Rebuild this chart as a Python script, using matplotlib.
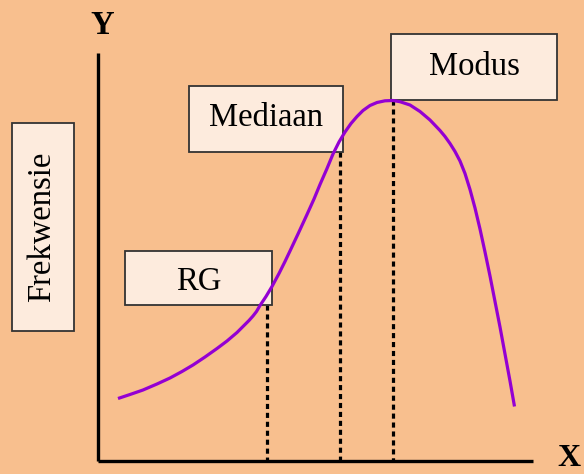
import matplotlib.pyplot as plt
from matplotlib.patches import Rectangle

# Diagram in pixel-like units (origin top-left)
curve_x = [118, 130, 143, 157, 170, 182, 193, 205, 217, 227, 237, 245, 249, 253, 256.5, 260, 266, 272,
           279, 285, 290, 298, 307, 314, 320, 327, 333, 339, 345, 351, 357, 363, 370, 377,
           385, 393, 400, 410, 420, 430, 440, 445, 450, 455, 460, 465, 470, 475, 480, 485, 490,
           495, 500, 505, 510, 514.5]
curve_y = [398.5, 394.5, 390, 384, 378, 371.5, 365, 357, 348.5, 341, 332.5, 324.5, 320.5, 316, 311.5, 305.5, 296.5, 286.5,
           273.5, 261.5, 251, 234, 214.5, 199, 184.5, 168.5, 154, 142, 132, 123.5, 116.5, 110.5, 105.5, 102.5,
           100.8, 100.5, 101.7, 105, 111.5, 120, 130.5, 136.5, 143.5, 151.5, 161, 173.5, 189.5, 208, 229, 252, 276,
           301.5, 327, 354, 381, 406.5]

# dotted markers: RG, Mediaan, Modus
mark_x = [267, 340, 393]
mark_top = [305, 152, 100]

box_labels = ['RG', 'Mediaan', 'Modus']
box_x = [125, 189, 391]
box_y = [251, 86, 34]
box_w = [147, 154, 166]
box_h = [54, 66, 66]
label_dy = [4, -1, 0]

axis_x0, axis_y0 = 98, 461
axis_xmax, axis_ytop = 533, 53

bg = '#F8BF8E'
box_fill = '#FDEBDD'
purple = '#9400D3'

fig = plt.figure(figsize=(5.84, 4.74), dpi=100, facecolor=bg)
ax = fig.add_axes([0, 0, 1, 1])
ax.set_facecolor(bg)
ax.set_xlim(0, 584)
ax.set_ylim(474, 0)
ax.axis('off')

plt.rcParams['font.family'] = ['Liberation Serif', 'DejaVu Serif']

# axes lines
ax.plot([axis_x0, axis_x0], [axis_ytop, axis_y0], color='black', lw=2.4, solid_capstyle='butt')
ax.plot([axis_x0, axis_xmax], [axis_y0, axis_y0], color='black', lw=2.4, solid_capstyle='butt')
ax.text(102, 25, 'Y', fontsize=23.5, fontweight='bold', ha='center', va='center', family='Liberation Serif')
ax.text(581, 473, 'X', fontsize=23, fontweight='bold', ha='right', va='bottom', family='Liberation Serif')

# dotted lines
for mx, mt in zip(mark_x, mark_top):
    ax.plot([mx, mx], [mt, axis_y0], color='black', lw=2.3, linestyle=(0, (1.6, 1.2)))

# label boxes
for lab, bx, by, bw, bh, dy in zip(box_labels, box_x, box_y, box_w, box_h, label_dy):
    ax.add_patch(Rectangle((bx, by), bw, bh, facecolor=box_fill, edgecolor='#333333', lw=1.3, zorder=4))
    ax.text(bx + bw / 2, by + bh / 2 + dy, lab, fontsize=23.5, ha='center', va='center',
            family='Liberation Serif', zorder=6)

# curve (drawn over the boxes' corners)
ax.plot(curve_x, curve_y, color=purple, lw=2.3, solid_capstyle='butt', solid_joinstyle='round', zorder=5)

# Frekwensie box
ax.add_patch(Rectangle((12, 123), 62, 208, facecolor=box_fill, edgecolor='#333333', lw=1.3, zorder=4))
ax.text(42, 227, 'Frekwensie', fontsize=23.5, rotation=90, ha='center', va='center',
        family='Liberation Serif', zorder=6)

fig.savefig('out.png', dpi=100, facecolor=bg)
